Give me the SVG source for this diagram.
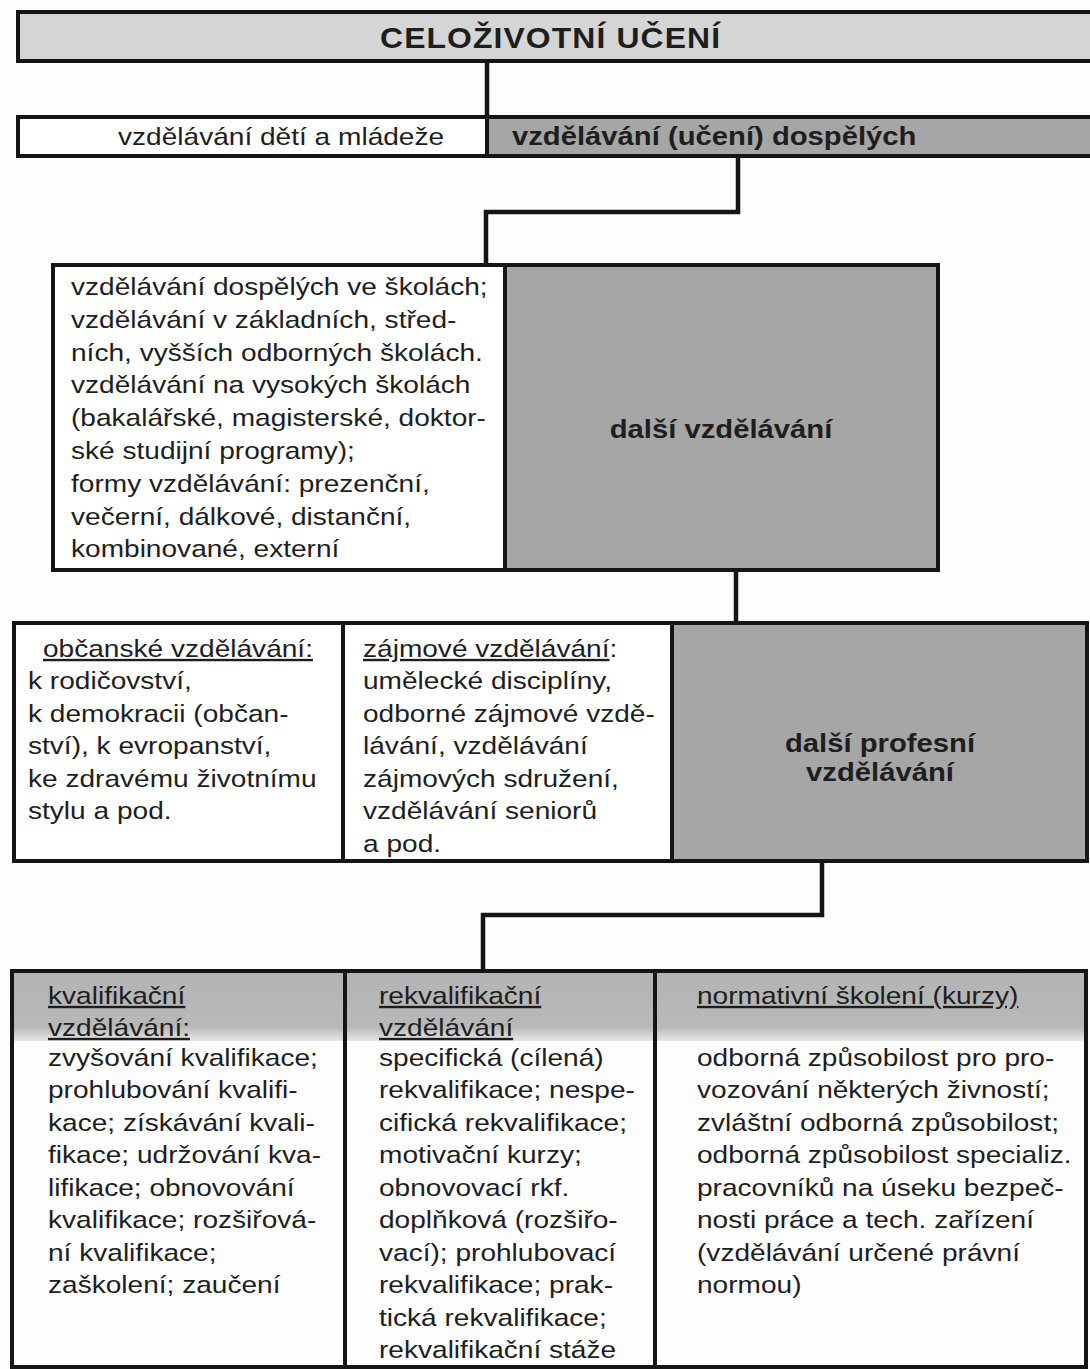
<svg xmlns="http://www.w3.org/2000/svg" width="1090" height="1369" viewBox="0 0 1090 1369">
<style>
.bg{fill:#fdfdfd}
.box{fill:#ffffff;stroke:#151515;stroke-width:4}
.gray{fill:#a6a6a6}
.light{fill:#d5d5d5}
.frame{fill:none;stroke:#151515;stroke-width:4}
.conn{fill:none;stroke:#151515;stroke-width:4.5}
.t{font-family:"Liberation Sans",Arial,sans-serif;font-size:24px;fill:#1e1e1e}
.b{font-weight:bold;font-size:25px}
.u{text-decoration:underline}
.h{font-family:"Liberation Sans",Arial,sans-serif;font-size:29px;font-weight:bold;fill:#1e1e1e;letter-spacing:1px}
</style>
<defs>
<linearGradient id="band" x1="0" y1="0" x2="0" y2="1">
<stop offset="0" stop-color="#b4b4b4"/>
<stop offset="0.8" stop-color="#b8b8b8"/>
<stop offset="1" stop-color="#e6e6e6"/>
</linearGradient>
</defs>
<rect class="bg" x="0" y="0" width="1090" height="1369"/>

<g id="connectors">
<path class="conn" d="M487,61 V117"/>
<path class="conn" d="M738,156 V212 H486 V265"/>
<path class="conn" d="M736,570 V623"/>
<path class="conn" d="M822,861 V915 H483 V971"/>
</g>

<g id="celozivotni-uceni">
<rect class="light" x="18" y="12" width="1080" height="49"/>
<rect class="frame" x="18" y="12" width="1080" height="49"/>
<g transform="translate(380,48) scale(1.1,1)"><text class="h" x="0" y="0">CELOŽIVOTNÍ  UČENÍ</text></g>
</g>

<g id="vzdelavani-deti">
<rect class="box" x="18" y="117" width="469" height="39"/>
<g transform="translate(118,145) scale(1.17,1)"><text class="t" x="0" y="0">vzdělávání dětí a mládeže</text></g>
</g>

<g id="vzdelavani-dospelych">
<rect class="gray" x="487" y="117" width="611" height="39"/>
<rect class="frame" x="487" y="117" width="611" height="39"/>
<g transform="translate(512,145) scale(1.17,1)"><text class="t b" x="0" y="0">vzdělávání (učení) dospělých</text></g>
</g>

<g id="vzdelavani-ve-skolach">
<rect class="box" x="53" y="265" width="452" height="305"/>
<g transform="translate(71,0) scale(1.17,1)">
<text class="t" x="0" y="295">vzdělávání dospělých ve školách;</text>
<text class="t" x="0" y="327.8">vzdělávání v základních, střed-</text>
<text class="t" x="0" y="360.6">ních, vyšších odborných školách.</text>
<text class="t" x="0" y="393.4">vzdělávání na vysokých školách</text>
<text class="t" x="0" y="426.2">(bakalářské, magisterské, doktor-</text>
<text class="t" x="0" y="459">ské studijní programy);</text>
<text class="t" x="0" y="491.8">formy vzdělávání: prezenční,</text>
<text class="t" x="0" y="524.6">večerní, dálkové, distanční,</text>
<text class="t" x="0" y="557.4">kombinované, externí</text>
</g>
</g>

<g id="dalsi-vzdelavani">
<rect class="gray" x="505" y="265" width="433" height="305"/>
<rect class="frame" x="505" y="265" width="433" height="305"/>
<g transform="translate(721,438) scale(1.17,1)"><text class="t b" x="0" y="0" text-anchor="middle">další vzdělávání</text></g>
</g>

<g id="obcanske-vzdelavani">
<rect class="box" x="14" y="623" width="329" height="238"/>
<g transform="translate(43,657) scale(1.17,1)"><text class="t u" x="0" y="0">občanské vzdělávání:</text></g>
<g transform="translate(28,0) scale(1.17,1)">
<text class="t" x="0" y="689.5">k rodičovství,</text>
<text class="t" x="0" y="722">k demokracii (občan-</text>
<text class="t" x="0" y="754.5">ství), k evropanství,</text>
<text class="t" x="0" y="787">ke zdravému životnímu</text>
<text class="t" x="0" y="819.5">stylu a pod.</text>
</g>
</g>

<g id="zajmove-vzdelavani">
<rect class="box" x="343" y="623" width="329" height="238"/>
<g transform="translate(363,0) scale(1.17,1)">
<text class="t" x="0" y="657"><tspan class="u">zájmové vzdělávání</tspan>:</text>
<text class="t" x="0" y="689.5">umělecké disciplíny,</text>
<text class="t" x="0" y="722">odborné zájmové vzdě-</text>
<text class="t" x="0" y="754.5">lávání, vzdělávání</text>
<text class="t" x="0" y="787">zájmových sdružení,</text>
<text class="t" x="0" y="819.5">vzdělávání seniorů</text>
<text class="t" x="0" y="852">a pod.</text>
</g>
</g>

<g id="dalsi-profesni-vzdelavani">
<rect class="gray" x="672" y="623" width="415" height="238"/>
<rect class="frame" x="672" y="623" width="415" height="238"/>
<g transform="translate(880,0) scale(1.17,1)">
<text class="t b" x="0" y="752" text-anchor="middle">další profesní</text>
<text class="t b" x="0" y="781" text-anchor="middle">vzdělávání</text>
</g>
</g>

<g id="row5-band">
<rect x="14" y="971" width="1072" height="70" fill="url(#band)"/>
</g>

<g id="kvalifikacni-vzdelavani">
<rect class="frame" x="12" y="971" width="333" height="396"/>
<g transform="translate(48,0) scale(1.17,1)">
<text class="t u" x="0" y="1004">kvalifikační</text>
<text class="t u" x="0" y="1036">vzdělávání:</text>
<text class="t" x="0" y="1066">zvyšování kvalifikace;</text>
<text class="t" x="0" y="1098.5">prohlubování kvalifi-</text>
<text class="t" x="0" y="1131">kace; získávání kvali-</text>
<text class="t" x="0" y="1163.5">fikace; udržování kva-</text>
<text class="t" x="0" y="1196">lifikace; obnovování</text>
<text class="t" x="0" y="1228.5">kvalifikace; rozšiřová-</text>
<text class="t" x="0" y="1261">ní kvalifikace;</text>
<text class="t" x="0" y="1293.5">zaškolení; zaučení</text>
</g>
</g>

<g id="rekvalifikacni-vzdelavani">
<rect class="frame" x="345" y="971" width="310" height="396"/>
<g transform="translate(379,0) scale(1.17,1)">
<text class="t u" x="0" y="1004">rekvalifikační</text>
<text class="t u" x="0" y="1036">vzdělávání</text>
<text class="t" x="0" y="1066">specifická (cílená)</text>
<text class="t" x="0" y="1098.5">rekvalifikace; nespe-</text>
<text class="t" x="0" y="1131">cifická rekvalifikace;</text>
<text class="t" x="0" y="1163.5">motivační kurzy;</text>
<text class="t" x="0" y="1196">obnovovací rkf.</text>
<text class="t" x="0" y="1228.5">doplňková (rozšiřo-</text>
<text class="t" x="0" y="1261">vací); prohlubovací</text>
<text class="t" x="0" y="1293.5">rekvalifikace; prak-</text>
<text class="t" x="0" y="1326">tická rekvalifikace;</text>
<text class="t" x="0" y="1358">rekvalifikační stáže</text>
</g>
</g>

<g id="normativni-skoleni">
<rect class="frame" x="655" y="971" width="431" height="396"/>
<g transform="translate(697,0) scale(1.17,1)">
<text class="t u" x="0" y="1004">normativní školení (kurzy)</text>
<text class="t" x="0" y="1066">odborná způsobilost pro pro-</text>
<text class="t" x="0" y="1098.5">vozování některých živností;</text>
<text class="t" x="0" y="1131">zvláštní odborná způsobilost;</text>
<text class="t" x="0" y="1163.5">odborná způsobilost specializ.</text>
<text class="t" x="0" y="1196">pracovníků na úseku bezpeč-</text>
<text class="t" x="0" y="1228.5">nosti práce a tech. zařízení</text>
<text class="t" x="0" y="1261">(vzdělávání určené právní</text>
<text class="t" x="0" y="1293.5">normou)</text>
</g>
</g>
</svg>
